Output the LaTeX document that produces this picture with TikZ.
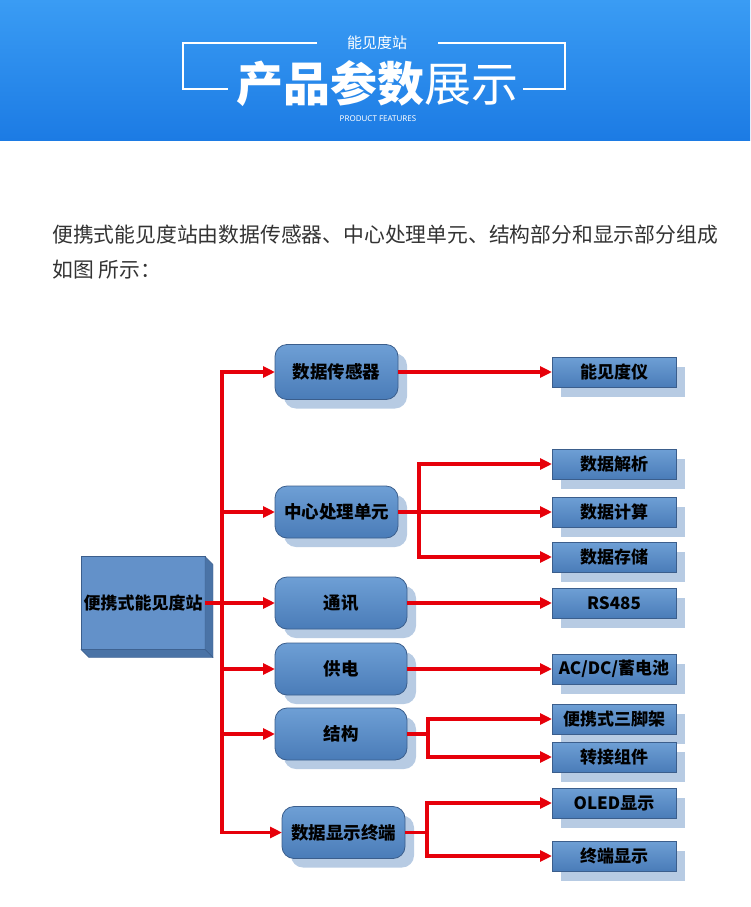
\documentclass[tikz,border=0pt]{standalone}
\usepackage{fontspec}
\newfontfamily\cjk{Noto Sans CJK SC}
\newfontfamily\latinsans{Noto Sans}
\usepackage{xcolor}
\definecolor{azulcab}{HTML}{3A9CF4}
\definecolor{azulcabb}{HTML}{1C7BE4}
\definecolor{azulcaja}{HTML}{6E9FD5}
\definecolor{azulcajab}{HTML}{4A7CB8}
\definecolor{bordecaja}{HTML}{3B5E8C}
\definecolor{sombra}{HTML}{B7CBE3}
\definecolor{frente}{HTML}{6391C9}
\definecolor{lado}{HTML}{4A73A6}
\definecolor{rojo}{HTML}{E6000A}
\definecolor{texto}{HTML}{333333}
\usepackage{tikz}
\usetikzlibrary{arrows.meta, positioning, shadows}

\tikzset{
  rama/.style={rounded corners=12pt, draw=bordecaja, line width=0.8pt,
    top color=azulcaja, bottom color=azulcajab, minimum height=52pt,
    inner sep=0pt, outer sep=0pt, font=\cjk\bfseries\fontsize{17.5}{17.5}\selectfont,
    drop shadow={shadow xshift=9pt, shadow yshift=-9pt, fill=sombra, opacity=1}},
  hoja/.style={rectangle, draw=bordecaja, line width=0.8pt,
    top color=azulcaja, bottom color=azulcajab, minimum width=124pt, minimum height=30pt,
    inner sep=0pt, outer sep=0pt, font=\cjk\bfseries\fontsize{17}{17}\selectfont,
    drop shadow={shadow xshift=9pt, shadow yshift=-10pt, fill=sombra, opacity=1}},
  flecha/.style={draw=rojo, line width=3.2pt, -{Triangle[length=12pt, width=11pt]}},
  linea/.style={draw=rojo, line width=3.2pt}
}

\begin{document}
\begin{tikzpicture}[x=1pt, y=-1pt]
  \useasboundingbox (0,0) rectangle (750,907);
  % Cabecera
  \shade[top color=azulcab, bottom color=azulcabb] (0,0) rectangle (750,140);
  \draw[white, line width=1.6pt] (317,43) -- (183,43) -- (183,89) -- (228,89);
  \draw[white, line width=1.6pt] (438,43) -- (565,43) -- (565,89) -- (523,89);
  \node[text=white, font=\cjk\fontsize{15}{15}\selectfont] (sub) at (377,43) {能见度站};
  \node[text=white, font=\cjk\fontsize{47}{47}\selectfont] (titulo) at (377,84) {{\bfseries 产品参数}展示};
  \node[text=white, font=\latinsans\fontsize{8}{8}\selectfont] (feat) at (378,119) {PRODUCT FEATURES};

  % Texto de introduccion
  \node[anchor=west, text=texto, font=\cjk\fontsize{20.8}{20.8}\selectfont, inner sep=0pt] (intro) at (52,235)
    {便携式能见度站由数据传感器、中心处理单元、结构部分和显示部分组成};
  \node[anchor=west, text=texto, font=\cjk\fontsize{20.8}{20.8}\selectfont, inner sep=0pt] (intro2) at (52,270)
    {如图 所示：};

  % Caja principal en 3D
  \node[draw=bordecaja, fill=frente, minimum width=124pt, minimum height=93pt, inner sep=0pt, outer sep=0pt,
    font=\cjk\bfseries\fontsize{17}{17}\selectfont] (zhan) at (143,603) {便携式能见度站};
  \filldraw[fill=lado, draw=bordecaja] (zhan.north east) -- (zhan.south east) -- ++(8,8) -- ++(0,-93) -- cycle;
  \filldraw[fill=lado, draw=bordecaja] (zhan.south west) -- ++(8,8) -- ++(124,0) -- (zhan.south east) -- cycle;

  % Nivel intermedio
  \node[rama, minimum width=123pt, minimum height=55pt] (sensor) at (336.5,372) {数据传感器};
  \node[rama, minimum width=123pt] (cpu) at (336.5,512) {中心处理单元};
  \node[rama, minimum width=132pt] (com) at (341,603) {通讯};
  \node[rama, minimum width=132pt] (pow) at (341,669) {供电};
  \node[rama, minimum width=132pt] (est) at (341,734) {结构};
  \node[rama, minimum width=123pt] (disp) at (343.5,832.5) {数据显示终端};

  % Hojas
  \foreach \n/\y/\t in {vis/372/能见度仪, jx/464/数据解析, js/512/数据计算, cc/557/数据存储,
      rs/603/RS485, ac/669/{AC/DC/蓄电池}, sj/719/便携式三脚架, zj/757/转接组件,
      oled/803/OLED显示, zd/856/终端显示} {
    \node[hoja] (\n) at (614,\y) {\t};
  }

  % Conexiones
  \coordinate (bus) at (222,603);
  \draw[flecha] (zhan.east) -- (com.west);
  \foreach \b in {sensor,cpu,pow,est,disp} {
    \draw[flecha] (bus) |- (\b.west);
  }
  \draw[flecha] (sensor.east) -- (vis.west);
  \coordinate (c1) at (419,512);
  \draw[linea] (cpu.east) -- (c1);
  \foreach \h in {jx,js,cc} {
    \draw[flecha] (c1) |- (\h.west);
  }
  \draw[flecha] (com.east) -- (rs.west);
  \draw[flecha] (pow.east) -- (ac.west);
  \coordinate (c2) at (428,734);
  \draw[linea] (est.east) -- (c2);
  \foreach \h in {sj,zj} {
    \draw[flecha] (c2) |- (\h.west);
  }
  \coordinate (c3) at (427,832.5);
  \draw[linea] (disp.east) -- (c3);
  \foreach \h in {oled,zd} {
    \draw[flecha] (c3) |- (\h.west);
  }
\end{tikzpicture}
\end{document}
